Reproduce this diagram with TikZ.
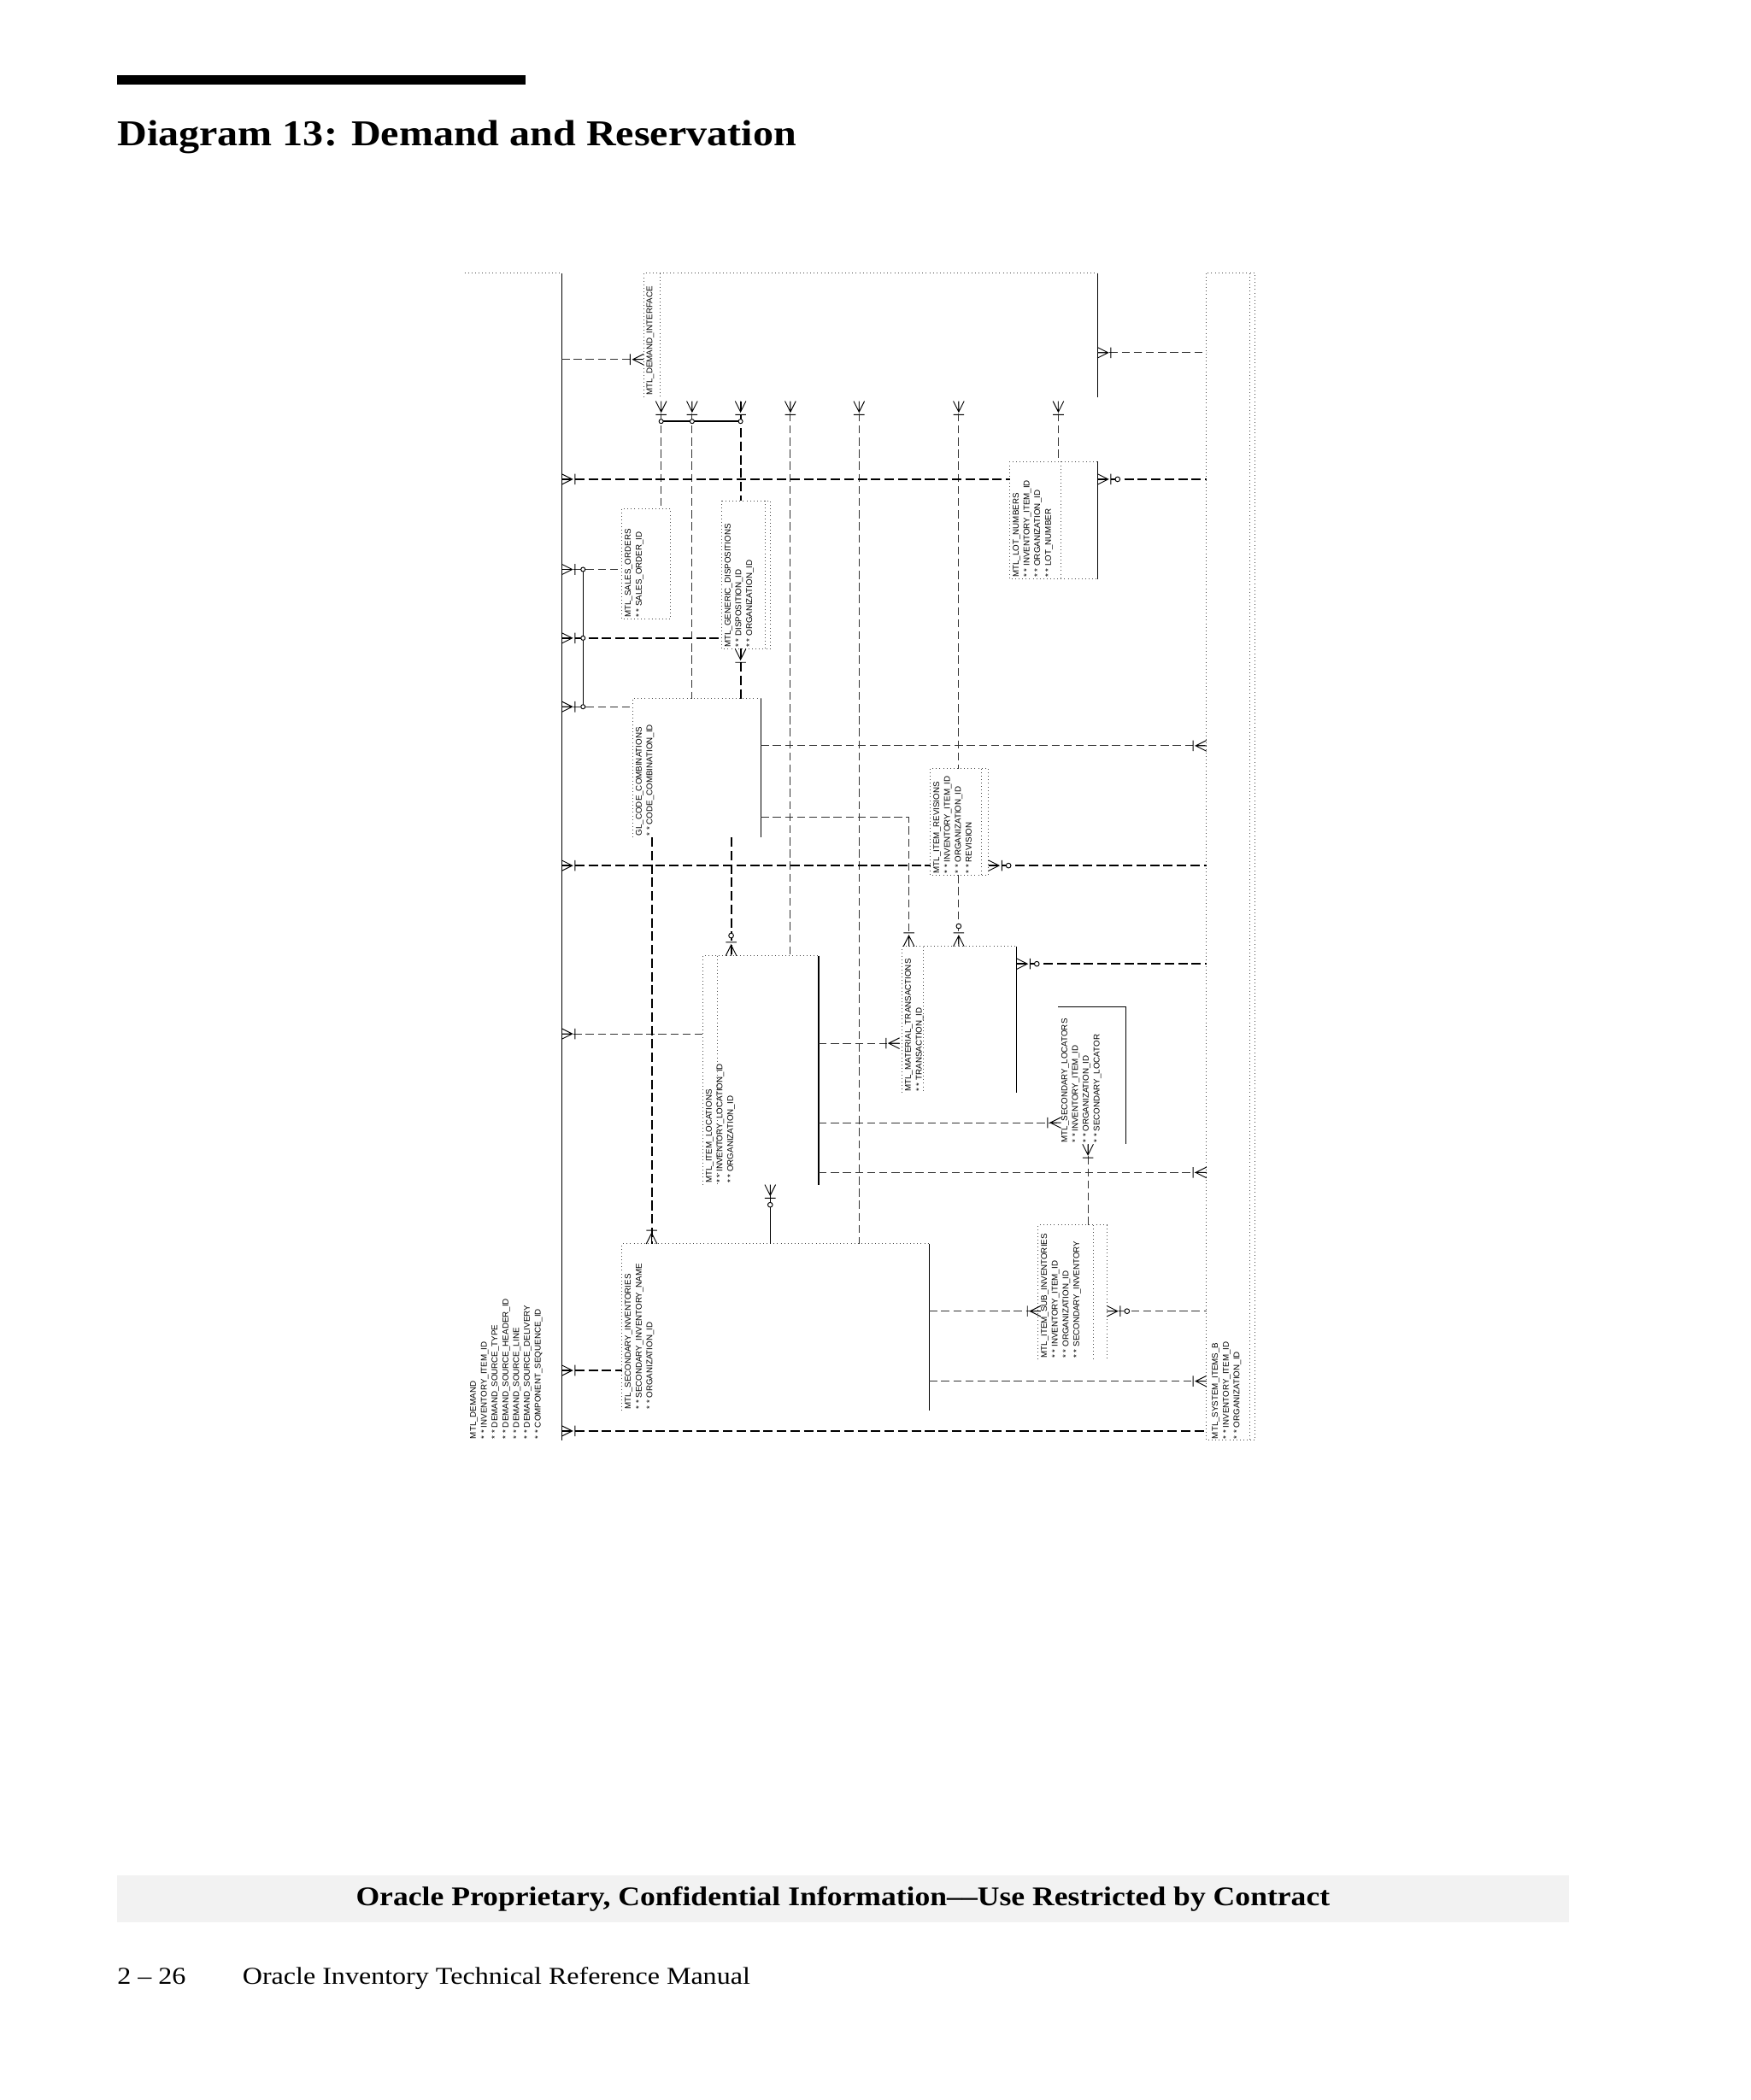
\documentclass[tikz,border=0pt]{standalone}
\usepackage{fontspec}
\setmainfont{Liberation Serif}[FakeStretch=1.13]
\setsansfont{Liberation Sans}
\begin{document}
\begin{tikzpicture}[x=1pt,y=-1pt,
  rel/.style={draw=black!80,line width=0.6pt,dash pattern=on 6pt off 3pt},
  relb/.style={draw=black,line width=1.2pt,dash pattern=on 7pt off 3pt},
  ent/.style={rotate=90,anchor=north west,font=\sffamily\fontsize{6.2}{8}\selectfont,align=left,inner sep=1pt},
  dotb/.style={draw=black!70,dotted,line width=0.6pt},
  solb/.style={draw=black,line width=0.7pt}]
\newcommand\crw[3]{\begin{scope}[shift={(#1,#2)},rotate=#3]\draw[line width=0.6pt] (0,-4)--(8,0)--(0,4) (0,0)--(8,0) (10,-4)--(10,4);\end{scope}}
\newcommand\ocr[3]{\begin{scope}[shift={(#1,#2)},rotate=#3]\draw[line width=0.6pt,fill=white] (15,0) circle (1.8);\end{scope}}
\useasboundingbox (0,0) rectangle (1300,1560);
\fill[white] (0,0) rectangle (1300,1560);
% header
\fill[black] (87,56) rectangle (390,63);
\node[anchor=base west,font=\bfseries\fontsize{27}{30}\selectfont,inner sep=0] (title) at (87,108) {Diagram 13: Demand and Reservation};
% footer
\fill[black!5] (87,1393) rectangle (1165,1428);
\node[font=\bfseries\fontsize{20}{22}\selectfont,inner sep=0] (conf) at (626,1411) {Oracle Proprietary, Confidential Information––Use Restricted by Contract};
\node[anchor=base west,font=\fontsize{18}{20}\selectfont,inner sep=0] (pg) at (87,1474) {2 – 26};
\node[anchor=base west,font=\fontsize{18}{20}\selectfont,inner sep=0] (man) at (180,1474) {Oracle Inventory Technical Reference Manual};
% entities
\draw[dotb] (345,203)--(417,203); \draw[solb] (417,203)--(417,1070);
\node[ent] (demand) at (348,1070) {MTL\_DEMAND\\* * INVENTORY\_ITEM\_ID\\* * DEMAND\_SOURCE\_TYPE\\* * DEMAND\_SOURCE\_HEADER\_ID\\* * DEMAND\_SOURCE\_LINE\\* * DEMAND\_SOURCE\_DELIVERY\\* * COMPONENT\_SEQUENCE\_ID};
\draw[dotb] (896,203) rectangle (932,1070); \draw[dotb] (928,203)--(928,1070);
\node[ent] (sysitems) at (899,1070) {MTL\_SYSTEM\_ITEMS\_B\\* * INVENTORY\_ITEM\_ID\\* * ORGANIZATION\_ID};
\draw[dotb] (478,295)--(478,203)--(815,203); \draw[dotb] (490,203)--(490,295); \draw[solb] (815,203)--(815,295);
\node[ent] (dint) at (479,295) {MTL\_DEMAND\_INTERFACE};
\draw[dotb] (750,343) rectangle (815,430); \draw[dotb] (788,343)--(788,430); \draw[solb] (815,343)--(815,430);
\node[ent] (lot) at (751,430) {MTL\_LOT\_NUMBERS\\* * INVENTORY\_ITEM\_ID\\* * ORGANIZATION\_ID\\* * LOT\_NUMBER};
\draw[dotb] (462,378) rectangle (498,460);
\node[ent] (so) at (463,460) {MTL\_SALES\_ORDERS\\* * SALES\_ORDER\_ID};
\draw[dotb] (536,372) rectangle (572,482); \draw[dotb] (568,372)--(568,482);
\node[ent] (gd) at (537,482) {MTL\_GENERIC\_DISPOSITIONS\\* * DISPOSITION\_ID\\* * ORGANIZATION\_ID};
\draw[dotb] (470,622)--(470,519)--(565,519); \draw[solb] (565,519)--(565,622);
\node[ent] (gl) at (471,622) {GL\_CODE\_COMBINATIONS\\* * CODE\_COMBINATION\_ID};
\draw[dotb] (691,571) rectangle (734,650); \draw[dotb] (729,571)--(729,650);
\node[ent] (rev) at (692,650) {MTL\_ITEM\_REVISIONS\\* * INVENTORY\_ITEM\_ID\\* * ORGANIZATION\_ID\\* * REVISION};
\draw[dotb] (670,812)--(670,703)--(755,703); \draw[dotb] (686,703)--(686,812); \draw[solb] (755,703)--(755,812);
\node[ent] (mmt) at (671,812) {MTL\_MATERIAL\_TRANSACTIONS\\* * TRANSACTION\_ID};
\draw[dotb] (522,880)--(522,710)--(608,710); \draw[dotb] (533,710)--(533,880); \draw[solb] (608,710)--(608,880);
\node[ent] (loc) at (523,880) {MTL\_ITEM\_LOCATIONS\\* * INVENTORY\_LOCATION\_ID\\* * ORGANIZATION\_ID};
\draw[solb] (786,748)--(836,748)--(836,850);
\node[ent] (sloc) at (787,850) {MTL\_SECONDARY\_LOCATORS\\* * INVENTORY\_ITEM\_ID\\* * ORGANIZATION\_ID\\* * SECONDARY\_LOCATOR};
\draw[dotb] (771,1010)--(771,910)--(822,910)--(822,1010); \draw[dotb] (812,910)--(812,1010);
\node[ent] (sub) at (772,1010) {MTL\_ITEM\_SUB\_INVENTORIES\\* * INVENTORY\_ITEM\_ID\\* * ORGANIZATION\_ID\\* * SECONDARY\_INVENTORY};
\draw[dotb] (462,1048)--(462,924)--(690,924); \draw[solb] (690,924)--(690,1048);
\node[ent] (sinv) at (463,1048) {MTL\_SECONDARY\_INVENTORIES\\* * SECONDARY\_INVENTORY\_NAME\\* * ORGANIZATION\_ID};
% relationships
\draw[rel] (417,267)--(470,267); \crw{478}{267}{180}
\draw[rel] (815,262)--(896,262); \crw{815}{262}{0}
\foreach \xx in {491,514,550,587,638,712,786} {\crw{\xx}{298}{-90}}
\draw[rel] (491,298)--(491,378); \draw[rel] (514,298)--(514,519);
\draw[relb] (550,298)--(550,372); \draw[rel] (587,298)--(587,710);
\draw[rel] (638,298)--(638,924); \draw[rel] (712,298)--(712,571);
\draw[rel] (786,298)--(786,343);
\draw[line width=1.4pt] (491,313)--(550,313);
\foreach \xx in {491,514,550}{\draw[fill=white,line width=0.6pt] (\xx,313) circle (1.6);}
\draw[relb] (417,356)--(750,356); \crw{417}{356}{0}
\draw[relb] (815,356)--(896,356); \crw{815}{356}{0}\ocr{815}{356}{0}
\draw[rel] (417,423)--(462,423); \crw{417}{423}{0}
\draw[relb] (417,474)--(536,474); \crw{417}{474}{0}
\draw[rel] (417,525)--(470,525); \crw{417}{525}{0}
\draw[line width=0.6pt] (433,423)--(433,525);
\foreach \yy in {423,474,525}{\draw[fill=white,line width=0.6pt] (433,\yy) circle (1.6);}
\draw[relb] (550,482)--(550,519); \crw{550}{482}{-90}
\draw[rel] (565,554)--(896,554); \crw{896}{554}{180}
\draw[relb] (417,643)--(691,643); \draw[relb] (734,643)--(896,643); \crw{417}{643}{0}\crw{734}{643}{0}\ocr{734}{643}{0}
\draw[rel] (565,607)--(675,607)--(675,703); \crw{675}{703}{90}
\draw[rel] (712,650)--(712,703); \crw{712}{703}{90}\ocr{712}{703}{90}
\draw[relb] (543,622)--(543,710); \crw{543}{710}{90}\ocr{543}{710}{90}
\draw[relb] (755,716)--(896,716); \crw{755}{716}{0}\ocr{755}{716}{0}
\draw[rel] (417,768)--(522,768); \crw{417}{768}{0}
\draw[rel] (608,775)--(670,775); \crw{668}{775}{180}
\draw[rel] (608,834)--(786,834); \crw{788}{834}{180}
\draw[rel] (608,871)--(896,871); \crw{896}{871}{180}
\draw[rel] (808,850)--(808,910); \crw{808}{850}{-90}
\draw[line width=0.6pt] (572,880)--(572,924); \crw{572}{880}{-90}\ocr{572}{880}{-90}
\draw[relb] (484,622)--(484,924); \crw{484}{924}{90}
\draw[rel] (690,974)--(771,974); \crw{773}{974}{180}
\draw[rel] (822,974)--(896,974); \crw{822}{974}{0}\ocr{822}{974}{0}
\draw[rel] (690,1026)--(896,1026); \crw{896}{1026}{180}
\draw[relb] (417,1018)--(462,1018); \crw{417}{1018}{0}
\draw[relb] (417,1063)--(896,1063); \crw{417}{1063}{0}
\end{tikzpicture}
\end{document}
